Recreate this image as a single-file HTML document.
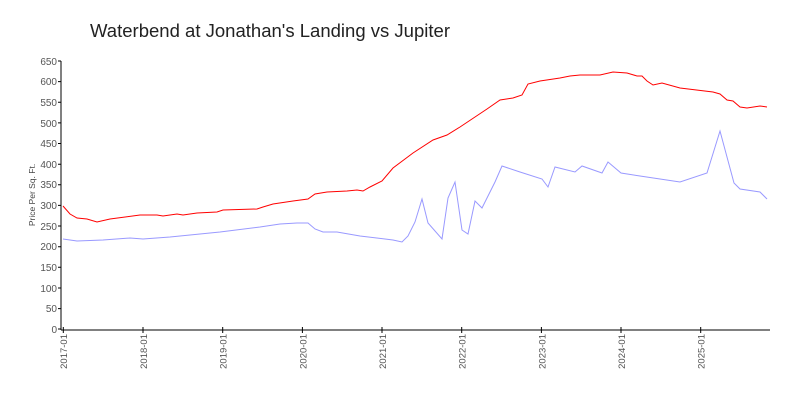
<!DOCTYPE html><html><head><style>body{margin:0;background:#fff}svg{display:block}text{font-family:"Liberation Sans",sans-serif}</style></head><body>
<svg width="800" height="400" xmlns="http://www.w3.org/2000/svg">
<rect width="800" height="400" fill="#fff"/>
<text x="90" y="37" font-size="18.5" fill="#222" textLength="360" lengthAdjust="spacingAndGlyphs">Waterbend at Jonathan's Landing vs Jupiter</text>
<text transform="translate(35,195) rotate(-90)" font-size="8.5" fill="#444" text-anchor="middle">Price Per Sq. Ft.</text>
<g font-size="10" fill="#555" text-anchor="end">
<text x="57" y="333">0</text><text x="57" y="312">50</text><text x="57" y="292">100</text><text x="57" y="271">150</text><text x="57" y="250">200</text><text x="57" y="230">250</text><text x="57" y="209">300</text><text x="57" y="188">350</text><text x="57" y="168">400</text><text x="57" y="147">450</text><text x="57" y="127">500</text><text x="57" y="106">550</text><text x="57" y="85">600</text><text x="57" y="65">650</text>
</g>
<g stroke="#000" stroke-width="1">
<line x1="61" y1="61" x2="61" y2="330"/>
<line x1="61" y1="330" x2="770" y2="330"/>
<path d="M58 61h3M58 81.6h3M58 102.3h3M58 122.9h3M58 143.5h3M58 164.2h3M58 184.8h3M58 205.4h3M58 226h3M58 246.7h3M58 267.3h3M58 288h3M58 308.6h3M58 329h3"/>
<path d="M63.3 327v6M143 327v6M222.7 327v6M302.4 327v6M382 327v6M461.7 327v6M541.4 327v6M621 327v6M700.7 327v6"/>
</g>
<g stroke="#ccc" stroke-width="1" id="mt"></g>
<g font-size="9.5" fill="#555" text-anchor="end">
<text transform="translate(67,334) rotate(-90)">2017-01</text>
<text transform="translate(147,334) rotate(-90)">2018-01</text>
<text transform="translate(226.7,334) rotate(-90)">2019-01</text>
<text transform="translate(306.4,334) rotate(-90)">2020-01</text>
<text transform="translate(386,334) rotate(-90)">2021-01</text>
<text transform="translate(465.7,334) rotate(-90)">2022-01</text>
<text transform="translate(545.4,334) rotate(-90)">2023-01</text>
<text transform="translate(625,334) rotate(-90)">2024-01</text>
<text transform="translate(704.7,334) rotate(-90)">2025-01</text>
</g>
<polyline fill="none" stroke="#f00" stroke-width="1" points="63,206 70,214 77,218 87,219 97,222 110,219 140,215 157,215 163,216 177,214 183,215 197,213 217,212 223,210 257,209 263,207 273,204 293,201 308,199 315,194 327,192 347,191 357,190 363,191 370,187 382,181 393,168 413,153 433,140 447,135 460,127 487,109 500,100 513,98 522,95 528,84 540,81 560,78 570,76 580,75 600,75 613,72 627,73 637,76 642,76 647,81 653,85 662,83 680,88 713,92 720,94 727,100 733,101 740,107 747,108 760,106 767,107"/>
<polyline fill="none" stroke="#99f" stroke-width="1" points="63,239 77,241 103,240 130,238 143,239 170,237 220,232 260,227 280,224 297,223 308,223 315,229 323,232 337,232 360,236 393,240 402,242 408,236 415,222 422,199 428,223 442,239 448,198 455,182 462,230 468,234 475,201 482,208 495,182 502,166 520,172 542,179 548,187 555,167 575,172 582,166 602,173 608,162 621,173 640,176 680,182 707,173 720,131 734,183 740,189 760,192 767,199"/>
<script>var g=document.getElementById('mt'),s='';for(var i=1;i<106;i++){if(i%12==0)continue;var x=63.3+i*6.64;s+='<line x1="'+x+'" y1="331" x2="'+x+'" y2="333"/>';}g.innerHTML=s;</script>
</svg></body></html>
